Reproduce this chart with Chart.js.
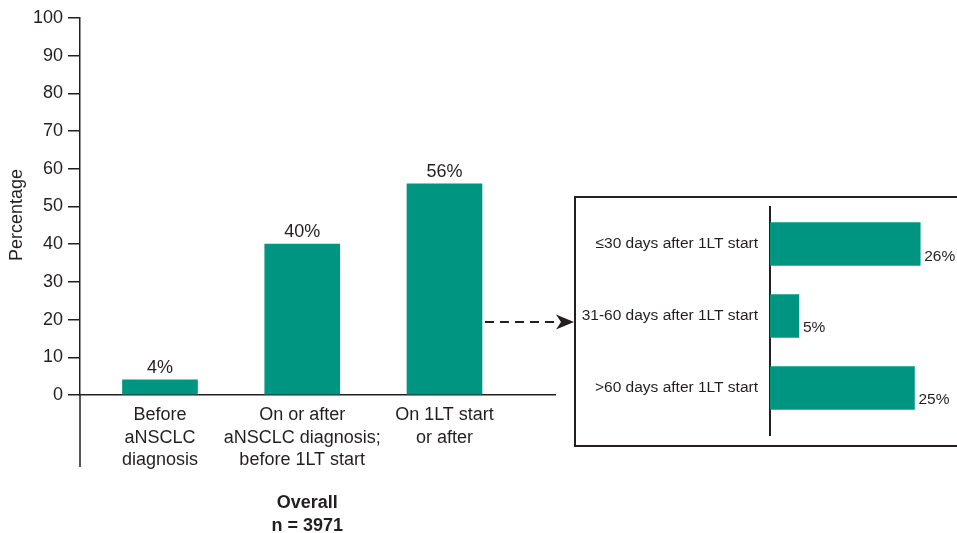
<!DOCTYPE html>
<html>
<head>
<meta charset="utf-8">
<script src="https://cdn.jsdelivr.net/npm/chart.js@4"></script>
<style>
  html, body { margin: 0; padding: 0; background: #fff; width: 957px; height: 533px; overflow: hidden; }
  #main { position: absolute; left: 0; top: 0; }
  #insetBox { position: absolute; left: 574px; top: 196px; width: 430px; height: 251px;
              border: 2px solid #231f20; box-sizing: border-box; }
  #inset { position: absolute; left: 0; top: 0; }
</style>
</head>
<body>
<canvas id="main" width="575" height="533"></canvas>
<div id="insetBox"><canvas id="inset" width="426" height="247"></canvas></div>
<script>
// Timing of testing, overall cohort
const categories = [
  ['Before', 'aNSCLC', 'diagnosis'],
  ['On or after', 'aNSCLC diagnosis;', 'before 1LT start'],
  ['On 1LT start', 'or after']
];
const overallValues = [4, 40, 56];
const yTickValues = [0, 10, 20, 30, 40, 50, 60, 70, 80, 90, 100];

// Breakdown of "On 1LT start or after"
const timingCategories = [
  '≤30 days after 1LT start',
  '31-60 days after 1LT start',
  '>60 days after 1LT start'
];
const timingValues = [26, 5, 25];

const TEAL = '#009580';
const INK = '#231f20';
const FONT = '"Liberation Sans", Arial, Helvetica, sans-serif';

Chart.defaults.font.family = FONT;
Chart.defaults.color = INK;

const mainDecor = {
  id: 'mainDecor',
  afterDraw(chart) {
    const ctx = chart.ctx;
    const area = chart.chartArea;
    const xs = chart.scales.x;
    const bars = chart.getDatasetMeta(0).data;
    ctx.save();

    // y axis continues below the baseline past the category labels
    ctx.strokeStyle = INK;
    ctx.lineWidth = 1.5;
    ctx.beginPath();
    ctx.moveTo(area.left, area.bottom);
    ctx.lineTo(area.left, area.bottom + 72);
    ctx.stroke();

    // value labels above the bars
    ctx.fillStyle = INK;
    ctx.font = '18px ' + FONT;
    ctx.textAlign = 'center';
    ctx.textBaseline = 'bottom';
    bars.forEach((bar, i) => {
      ctx.fillText(overallValues[i] + '%', bar.x, bar.y - 3);
    });

    // y axis title
    ctx.save();
    ctx.translate(17.5, 215);
    ctx.rotate(-Math.PI / 2);
    ctx.textBaseline = 'middle';
    ctx.fillText('Percentage', 0, 0);
    ctx.restore();

    // group caption under the categories
    const cx = xs.getPixelForValue(1) + 5;
    ctx.font = 'bold 18px ' + FONT;
    ctx.textBaseline = 'middle';
    ctx.fillText('Overall', cx, 503);
    ctx.fillText('n = 3971', cx, 526);

    // dashed arrow to the breakdown panel
    const last = bars[bars.length - 1];
    const ay = 322;
    const tip = chart.width - 1;
    ctx.strokeStyle = INK;
    ctx.lineWidth = 2;
    ctx.setLineDash([9, 6]);
    ctx.beginPath();
    ctx.moveTo(last.x + last.width / 2 + 3, ay);
    ctx.lineTo(tip - 14, ay);
    ctx.stroke();
    ctx.setLineDash([]);
    ctx.fillStyle = INK;
    ctx.beginPath();
    ctx.moveTo(tip, ay);
    ctx.lineTo(tip - 18, ay - 7.5);
    ctx.lineTo(tip - 13, ay);
    ctx.lineTo(tip - 18, ay + 7.5);
    ctx.closePath();
    ctx.fill();
    ctx.restore();
  }
};

new Chart(document.getElementById('main'), {
  type: 'bar',
  data: {
    datasets: [{
      data: overallValues.map((v, i) => ({ x: i, y: v })),
      backgroundColor: TEAL,
      borderWidth: 0,
      barThickness: 75
    }]
  },
  options: {
    responsive: false,
    animation: false,
    layout: { padding: { top: 18, right: 20, bottom: 0, left: 0 } },
    plugins: { legend: { display: false }, tooltip: { enabled: false } },
    scales: {
      x: {
        type: 'linear',
        offset: false,
        min: -0.5624,
        max: 2.777,
        afterBuildTicks: s => { s.ticks = categories.map((c, i) => ({ value: i })); },
        afterFit: s => { s.height = 138; },
        grid: { display: false, drawTicks: false, offset: false },
        border: { display: true, color: INK, width: 1.5 },
        ticks: {
          autoSkip: false,
          maxRotation: 0,
          padding: 9,
          color: INK,
          font: { size: 18, lineHeight: 1.25 },
          callback: v => categories[v]
        }
      },
      y: {
        min: 0,
        max: 100,
        afterBuildTicks: s => { s.ticks = yTickValues.map(v => ({ value: v })); },
        afterFit: s => { s.width = 80; },
        grid: { drawOnChartArea: false, drawTicks: true, tickLength: 12, tickColor: INK, lineWidth: 1.5 },
        border: { display: true, color: INK, width: 1.5 },
        ticks: { padding: 5, color: INK, font: { size: 18 } }
      }
    }
  },
  plugins: [mainDecor]
});

const insetDecor = {
  id: 'insetDecor',
  afterDraw(chart) {
    const ctx = chart.ctx;
    ctx.save();
    ctx.fillStyle = INK;
    ctx.font = '15.5px ' + FONT;
    ctx.textAlign = 'left';
    ctx.textBaseline = 'alphabetic';
    chart.getDatasetMeta(0).data.forEach((bar, i) => {
      ctx.fillText(timingValues[i] + '%', bar.x + 4, bar.y + bar.height / 2 - 5);
    });
    ctx.restore();
  }
};

new Chart(document.getElementById('inset'), {
  type: 'bar',
  data: {
    datasets: [{
      data: timingValues.map((v, i) => ({ x: v, y: i })),
      backgroundColor: TEAL,
      borderWidth: 0,
      barThickness: 43
    }]
  },
  options: {
    indexAxis: 'y',
    responsive: false,
    animation: false,
    layout: { padding: { top: 9, right: 24, bottom: 10, left: 0 } },
    plugins: { legend: { display: false }, tooltip: { enabled: false } },
    scales: {
      x: { type: 'linear', min: 0, max: 36, display: false },
      y: {
        type: 'linear',
        offset: false,
        reverse: true,
        min: -0.514,
        max: 2.653,
        afterBuildTicks: s => { s.ticks = timingCategories.map((c, i) => ({ value: i })); },
        afterFit: s => { s.width = 194; s.paddingTop = 0; s.paddingBottom = 0; },
        grid: { display: false, drawTicks: false, offset: false },
        border: { display: true, color: INK, width: 2 },
        ticks: {
          autoSkip: false,
          padding: 12,
          color: INK,
          font: { size: 15.5 },
          callback: v => timingCategories[v]
        }
      }
    }
  },
  plugins: [insetDecor]
});
</script>
</body>
</html>
